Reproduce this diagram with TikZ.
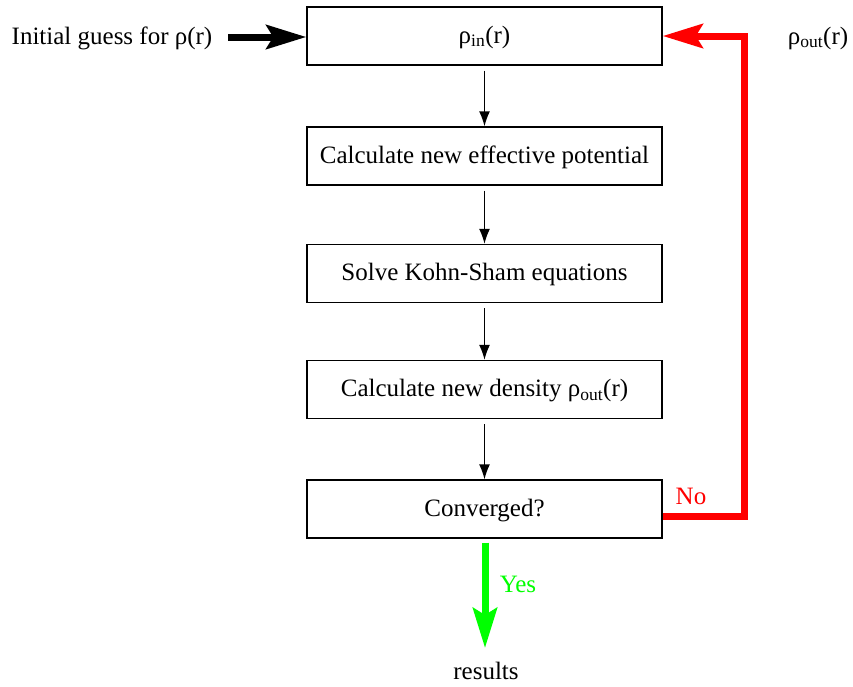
\documentclass[tikz,border=0pt]{standalone}
\usepackage{fontspec}
\setmainfont{Liberation Serif}
\usetikzlibrary{arrows.meta}
\tikzset{
  stepbox/.style={
    draw,
    line width=1.4pt,
    minimum width=355pt,
    minimum height=58pt,
    text depth=3pt,
    inner sep=0pt},
  flow/.style={
    -{Latex[length=15pt,width=11pt]},
    line width=1.4pt,
    shorten <=5pt},
  fat/.style={
    -{Stealth[length=40pt,width=24pt,inset=7pt]},
    line width=7pt}
  }

\begin{document}
\begin{tikzpicture}[x=1pt,y=-1pt,font=\fontsize{25}{30}\selectfont]
    \useasboundingbox (0,0) rectangle (853,686);
    \node[stepbox] (rhoin) at (484.5,36) {ρ\textsubscript{in}(r)};
    \node[stepbox] (pot) at (484.5,156) {Calculate new effective potential};
    \node[stepbox] (ks) at (484.5,273.5) {Solve Kohn-Sham equations};
    \node[stepbox] (dens) at (484.5,389.5) {Calculate new density ρ\textsubscript{out}(r)};
    \node[stepbox] (conv) at (484.5,509) {Converged?};
    \node (guess) at (112,38) {Initial guess for ρ(r)};
    \node (rhoout) at (818,38) {ρ\textsubscript{out}(r)};
    \node (res) at (486,671) {results};
    \coordinate (g0) at (228,37);
    \coordinate (r1) at (744,516);
    \coordinate (r2) at (744,36);
    \coordinate (y1) at (485,648);
    \draw [flow]
    (rhoin) edge[] (pot)
    (pot) edge[] (ks)
    (ks) edge[] (dens)
    (dens) edge[] (conv);
    \draw [fat] (g0) -- (rhoin.west |- g0);
    \draw [fat,red,line join=miter] (conv.east |- r1) -- (r1) -- (r2) -- (rhoin.east |- r2);
    \draw [fat,green,shorten <=4pt] (conv.south -| y1) -- (y1);
    \node[red] () at (691,496) {No};
    \node[green] () at (518,584) {Yes};
  \end{tikzpicture}
\end{document}
